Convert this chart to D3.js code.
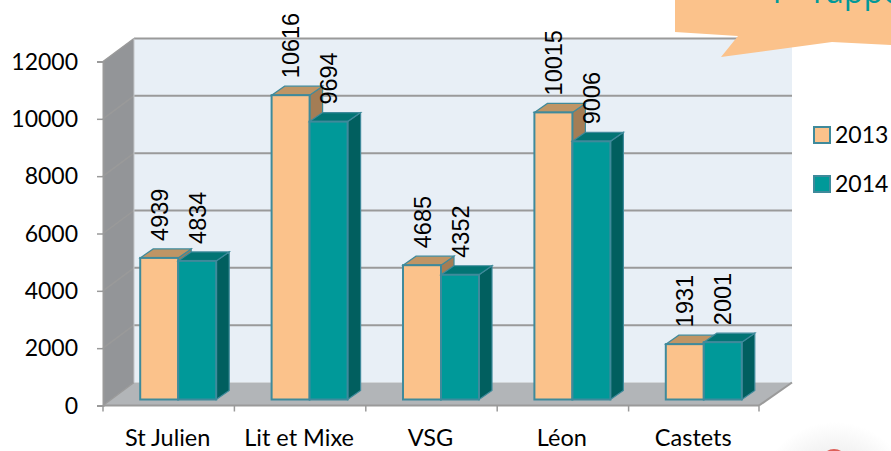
<!DOCTYPE html>
<html><head><meta charset="utf-8">
<script src="https://cdn.jsdelivr.net/npm/d3@7"></script>
<style>html,body{margin:0;padding:0;background:#fff}svg{display:block}</style>
</head><body><div id="c"></div>
<script>
const categories = ["St Julien","Lit et Mixe","VSG","Léon","Castets"];
const seriesNames = ["2013","2014"];
const values2013 = [4939,10616,4685,10015,1931];
const values2014 = [4834,9694,4352,9006,2001];
const yTicks = [0,2000,4000,6000,8000,10000,12000];

const W=891,H=451;
const svg=d3.select("#c").append("svg").attr("width",W).attr("height",H);
const x=d3.scaleBand().domain(categories).range([103,760]);
const y=d3.scaleLinear().domain([0,12000]).range([405.5,61.5]);
const wallDx=31, wallDy=-23;
const barW=38, barInDx=9.5, barInDy=-6, barDx=13, barDy=-9;
const colors={peach:"#FBC28B",teal:"#009999",peachTop:"#BF9565",peachSide:"#A47D55",tealTop:"#027474",tealSide:"#015F5F",edge:"#3F8A9B"};
const grid="#9a9a9a";
const pts=a=>a.map(p=>p.join(",")).join(" ");
const labelFont="Lato";

// soft shadow + red shape in the bottom corner
const rg=svg.append("defs").append("radialGradient").attr("id","sh");
rg.append("stop").attr("offset","0.6").attr("stop-color","#f1f1f1");
rg.append("stop").attr("offset","1").attr("stop-color","#fff");
svg.append("circle").attr("cx",835).attr("cy",500).attr("r",78).attr("fill","url(#sh)");
svg.append("ellipse").attr("cx",834).attr("cy",456).attr("rx",10).attr("ry",7).attr("fill","#DD5F58");

// walls
const x0=103,x1=759,yb=y(0),yt=y(12000);
svg.append("polygon").attr("points",pts([[x0+wallDx,yt+wallDy],[792,yt+wallDy],[792,yb+wallDy],[x0+wallDx,yb+wallDy]])).attr("fill","#E8EFF6");
svg.append("polygon").attr("points",pts([[x0,yt],[x0+wallDx,yt+wallDy],[x0+wallDx,yb+wallDy],[x0,yb]])).attr("fill","#939598");
svg.append("polygon").attr("points",pts([[x0,yb],[x0+wallDx,yb+wallDy],[792,yb+wallDy],[x1,yb]])).attr("fill","#B2B5B8");
// gridlines
yTicks.forEach(t=>{
  const yy=y(t);
  if(t>0) svg.append("line").attr("x1",x0+wallDx).attr("x2",792).attr("y1",yy+wallDy).attr("y2",yy+wallDy).attr("stroke",grid).attr("stroke-width",2);
  svg.append("line").attr("x1",x0).attr("x2",x0+wallDx).attr("y1",yy).attr("y2",yy+wallDy).attr("stroke",grid).attr("stroke-width",1.5);
});
svg.append("line").attr("x1",x0+wallDx).attr("x2",x0+wallDx).attr("y1",yt+wallDy).attr("y2",yb+wallDy).attr("stroke","#c4c7ca").attr("stroke-width",1);
svg.append("line").attr("x1",x1).attr("x2",792).attr("y1",yb).attr("y2",yb+wallDy).attr("stroke",grid).attr("stroke-width",2);
// axes
const ya=svg.append("g").attr("transform",`translate(${x0},0)`).call(d3.axisLeft(y).tickValues(yTicks).tickSize(6).tickPadding(19).tickFormat(d3.format("d")));
ya.select(".domain").attr("stroke",grid).attr("stroke-width",2);
ya.selectAll("line").attr("stroke",grid).attr("stroke-width",1.5);
ya.selectAll("text").attr("fill","#000").style("font-family",labelFont).style("font-size","23px").attr("dy","0.34em");
svg.append("line").attr("x1",x0).attr("x2",x1).attr("y1",yb).attr("y2",yb).attr("stroke",grid).attr("stroke-width",2);
const xTickPos=categories.map(c=>x(c)).concat([x1]);
svg.selectAll("line.xt").data(xTickPos).join("line").attr("class","xt")
  .attr("x1",d=>d).attr("x2",d=>d).attr("y1",yb).attr("y2",yb+6).attr("stroke",grid).attr("stroke-width",1.5);
svg.selectAll("text.cat").data(categories).join("text").attr("class","cat")
  .attr("x",d=>x(d)+x.bandwidth()/2-1).attr("y",446).attr("text-anchor","middle")
  .style("font-family",labelFont).style("font-size","23.5px").attr("fill","#000").text(d=>d);

// bars
function bar(left,v,front,top,side){
  const g=svg.append("g");
  const yy=y(v)+barInDy, b=y(0)+barInDy;
  g.append("polygon").attr("points",pts([[left+barW,b],[left+barW+barDx,b+barDy],[left+barW+barDx,yy+barDy],[left+barW,yy]])).attr("fill",side).attr("stroke",colors.edge).attr("stroke-width",1.2);
  g.append("polygon").attr("points",pts([[left,yy],[left+barDx,yy+barDy],[left+barW+barDx,yy+barDy],[left+barW,yy]])).attr("fill",top).attr("stroke",colors.edge).attr("stroke-width",1.2);
  g.append("rect").attr("x",left).attr("y",yy).attr("width",barW).attr("height",b-yy).attr("fill",front).attr("stroke",colors.edge).attr("stroke-width",2);
}
categories.forEach((c,i)=>{
  const l=x(c)+x.bandwidth()/2+barInDx-barW;
  bar(l,values2013[i],colors.peach,colors.peachTop,colors.peachSide);
  bar(l+barW,values2014[i],colors.teal,colors.tealTop,colors.tealSide);
});
// value labels
categories.forEach((c,i)=>{
  const l=x(c)+x.bandwidth()/2+barInDx-barW;
  [[values2013[i],l],[values2014[i],l+barW]].forEach(([v,lx])=>{
    const tx=lx+barW/2+8.5, ty=y(v)+barInDy-17;
    svg.append("text").attr("transform",`translate(${tx},${ty}) rotate(-90)`)
      .style("font-family","'Liberation Sans'").style("font-size","23.5px").attr("fill","#000").text(v);
  });
});
// legend
seriesNames.forEach((s,i)=>{
  const ly=135+i*49;
  svg.append("rect").attr("x",814).attr("y",ly-8).attr("width",16).attr("height",16).attr("fill",i?colors.teal:colors.peach).attr("stroke",colors.edge).attr("stroke-width",2);
  svg.append("text").attr("x",835).attr("y",ly+8).style("font-family",labelFont).style("font-size","23px").attr("fill","#000").text(s);
});
// callout
svg.append("polygon").attr("points",pts([[675,-1],[675,32],[738,36],[721,57],[832,42],[891,45],[891,-1]])).attr("fill",colors.peach);
const ct=svg.append("text").attr("y",3).style("font-family","'Open Sans'").style("font-size","32px").attr("fill","#009999");
ct.append("tspan").attr("x",773).text("l");
ct.append("tspan").attr("x",813).text("rappo");
</script></body></html>
